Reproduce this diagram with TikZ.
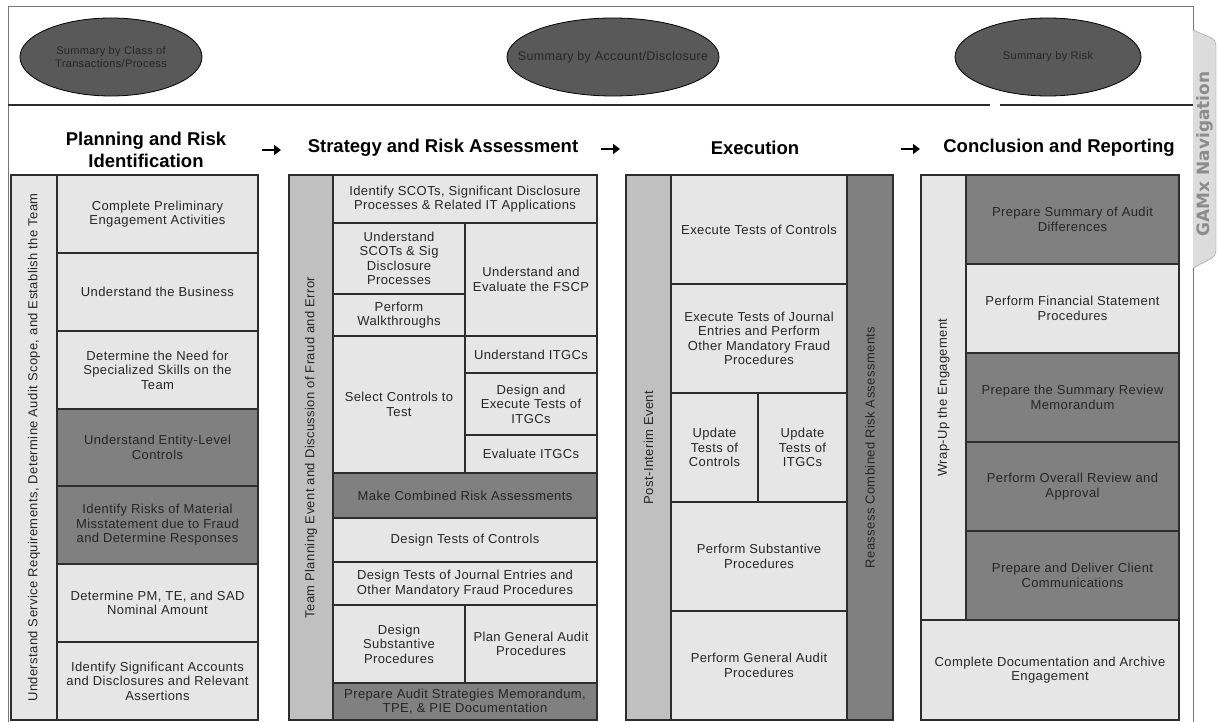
\documentclass[tikz,border=0pt]{standalone}
\usepackage{fontspec}
\setmainfont{Liberation Sans}
\newfontfamily\cellfont{Liberation Sans}[LetterSpace=3]
\newfontfamily\tabfont{DejaVu Sans}
\usepackage{xcolor}
\usepackage{tikz}
\usetikzlibrary{arrows.meta, positioning, shapes.geometric}
\definecolor{cellgray}{RGB}{230, 230, 230}
\definecolor{celldark}{RGB}{128, 128, 128}
\definecolor{bandgray}{RGB}{192, 192, 192}
\definecolor{ovalgray}{RGB}{89, 89, 89}
\definecolor{linegray}{RGB}{45, 45, 45}
\definecolor{inkgray}{RGB}{38, 38, 38}
\definecolor{framegray}{RGB}{120, 120, 120}
\definecolor{tabgray}{RGB}{220, 220, 220}
\definecolor{tabink}{RGB}{140, 140, 140}
\newcommand{\taskcell}[7]{\node[#6, anchor=north west, minimum width={(#4-#2)*1pt}, minimum height={(#5-#3)*1pt}] (#1) at (#2,#3) {#7};}
\newcommand{\bandcell}[7]{\node[#6, rotate=90, minimum width={(#5-#3)*1pt}, minimum height={(#4-#2)*1pt}] (#1) at ({(#2+#4)/2},{(#3+#5)/2}) {#7};}

\begin{document}
\begin{tikzpicture}[x=1pt, y=-1pt, >=Stealth,
    cell/.style={draw=linegray, line width=1.2pt, outer sep=0pt, inner sep=1pt, align=center, text=inkgray, font=\cellfont\fontsize{13}{14.5}\selectfont},
    lightcell/.style={cell, fill=cellgray},
    darkcell/.style={cell, fill=celldark},
    midcell/.style={cell, fill=bandgray},
    oval/.style={ellipse, draw=black, fill=ovalgray, line width=0.8pt, inner sep=0pt, align=center, text=inkgray, font=\cellfont\fontsize{11}{13}\selectfont},
    head/.style={align=center, font=\fontsize{18.5}{22}\selectfont\bfseries},
    phasearrow/.style={-{Triangle[length=7pt, width=10pt]}, line width=2.4pt}]
    \useasboundingbox (0,0) rectangle (1218,722);
    \draw[framegray] (8,722) -- (8,6) -- (1193,6) -- (1193,33);
    \draw[framegray] (1193,266) -- (1193,722);
    \draw[line width=2pt, linegray] (8,105) -- (990,105);
    \draw[line width=2pt, linegray] (1000,105) -- (1193,105);
    \draw[framegray!80, fill=tabgray, rounded corners=5pt] (1193,30) -- (1216,40) -- (1216,256) -- (1193,268);
    \node[rotate=90, text=tabink, font=\tabfont\fontsize{17}{20}\selectfont\bfseries] (tab) at (1205,154) {GAMx Navigation};

    \node[oval, minimum width=182pt, minimum height=78pt] (e1) at (111,57) {Summary by Class of\\Transactions/Process};
    \node[oval, minimum width=212pt, minimum height=78pt, font=\cellfont\fontsize{12.5}{14}\selectfont] (e2) at (613,57) {\makebox[0pt]{Summary by Account/Disclosure}};
    \node[oval, minimum width=186pt, minimum height=78pt] (e3) at (1048,57) {Summary by Risk};

    \node[head] (h1) at (146,150) {Planning and Risk\\Identification};
    \node[head] (h2) at (443,148) {Strategy and Risk Assessment};
    \node[head] (h3) at (755,148) {Execution};
    \node[head] (h4) at (1059,148) {Conclusion and Reporting};
    \coordinate (a1) at (262,150); \coordinate (a1e) at (281,150);
    \coordinate (a2) at (601,149); \coordinate (a2e) at (620,149);
    \coordinate (a3) at (901,149); \coordinate (a3e) at (920,149);
    \draw[phasearrow] (a1) -- (a1e);
    \draw[phasearrow] (a2) -- (a2e);
    \draw[phasearrow] (a3) -- (a3e);

    \bandcell{b1}{11}{175}{57}{720}{lightcell}{Understand Service Requirements, Determine Audit Scope, and Establish the Team}
    \taskcell{c11}{57}{175}{258}{253}{lightcell}{Complete Preliminary\\Engagement Activities}
    \taskcell{c12}{57}{253}{258}{331}{lightcell}{Understand the Business}
    \taskcell{c13}{57}{331}{258}{409}{lightcell}{Determine the Need for\\Specialized Skills on the\\Team}
    \taskcell{c14}{57}{409}{258}{486}{darkcell}{Understand Entity-Level\\Controls}
    \taskcell{c15}{57}{486}{258}{564}{darkcell}{Identify Risks of Material\\Misstatement due to Fraud\\and Determine Responses}
    \taskcell{c16}{57}{564}{258}{642}{lightcell}{Determine PM, TE, and SAD\\Nominal Amount}
    \taskcell{c17}{57}{642}{258}{720}{lightcell}{Identify Significant Accounts\\and Disclosures and Relevant\\Assertions}

    \bandcell{b2}{289}{175}{333}{720}{midcell}{Team Planning Event and Discussion of Fraud and Error}
    \taskcell{c21}{333}{175}{597}{223}{lightcell}{Identify SCOTs, Significant Disclosure\\Processes \& Related IT Applications}
    \taskcell{c22}{333}{223}{465}{294}{lightcell}{Understand\\SCOTs \& Sig\\Disclosure\\Processes}
    \taskcell{c23}{333}{294}{465}{336}{lightcell}{Perform\\Walkthroughs}
    \taskcell{c24}{333}{336}{465}{473}{lightcell}{Select Controls to\\Test}
    \taskcell{c25}{465}{223}{597}{336}{lightcell}{Understand and\\Evaluate the FSCP}
    \taskcell{c26}{465}{336}{597}{373}{lightcell}{Understand ITGCs}
    \taskcell{c27}{465}{373}{597}{435}{lightcell}{Design and\\Execute Tests of\\ITGCs}
    \taskcell{c28}{465}{435}{597}{473}{lightcell}{Evaluate ITGCs}
    \taskcell{c29}{333}{473}{597}{518}{darkcell}{Make Combined Risk Assessments}
    \taskcell{c2a}{333}{518}{597}{562}{lightcell}{Design Tests of Controls}
    \taskcell{c2b}{333}{562}{597}{605}{lightcell}{Design Tests of Journal Entries and\\Other Mandatory Fraud Procedures}
    \taskcell{c2c}{333}{605}{465}{683}{lightcell}{Design\\Substantive\\Procedures}
    \taskcell{c2d}{465}{605}{597}{683}{lightcell}{Plan General Audit\\Procedures}
    \taskcell{c2e}{333}{683}{597}{720}{darkcell}{Prepare Audit Strategies Memorandum,\\TPE, \& PIE Documentation}

    \bandcell{b3}{626}{175}{671}{720}{midcell}{Post-Interim Event}
    \bandcell{b4}{847}{175}{893}{720}{darkcell}{Reassess Combined Risk Assessments}
    \taskcell{c31}{671}{175}{847}{284}{lightcell}{Execute Tests of Controls}
    \taskcell{c32}{671}{284}{847}{393}{lightcell}{Execute Tests of Journal\\Entries and Perform\\Other Mandatory Fraud\\Procedures}
    \taskcell{c33}{671}{393}{758}{502}{lightcell}{Update\\Tests of\\Controls}
    \taskcell{c34}{758}{393}{847}{502}{lightcell}{Update\\Tests of\\ITGCs}
    \taskcell{c35}{671}{502}{847}{611}{lightcell}{Perform Substantive\\Procedures}
    \taskcell{c36}{671}{611}{847}{720}{lightcell}{Perform General Audit\\Procedures}

    \bandcell{b5}{921}{175}{966}{620}{lightcell}{Wrap-Up the Engagement}
    \taskcell{c41}{966}{175}{1179}{264}{darkcell}{Prepare Summary of Audit\\Differences}
    \taskcell{c42}{966}{264}{1179}{353}{lightcell}{Perform Financial Statement\\Procedures}
    \taskcell{c43}{966}{353}{1179}{442}{darkcell}{Prepare the Summary Review\\Memorandum}
    \taskcell{c44}{966}{442}{1179}{531}{darkcell}{Perform Overall Review and\\Approval}
    \taskcell{c45}{966}{531}{1179}{620}{darkcell}{Prepare and Deliver Client\\Communications}
    \taskcell{c46}{921}{620}{1179}{720}{lightcell}{Complete Documentation and Archive\\Engagement}
\end{tikzpicture}
\end{document}
